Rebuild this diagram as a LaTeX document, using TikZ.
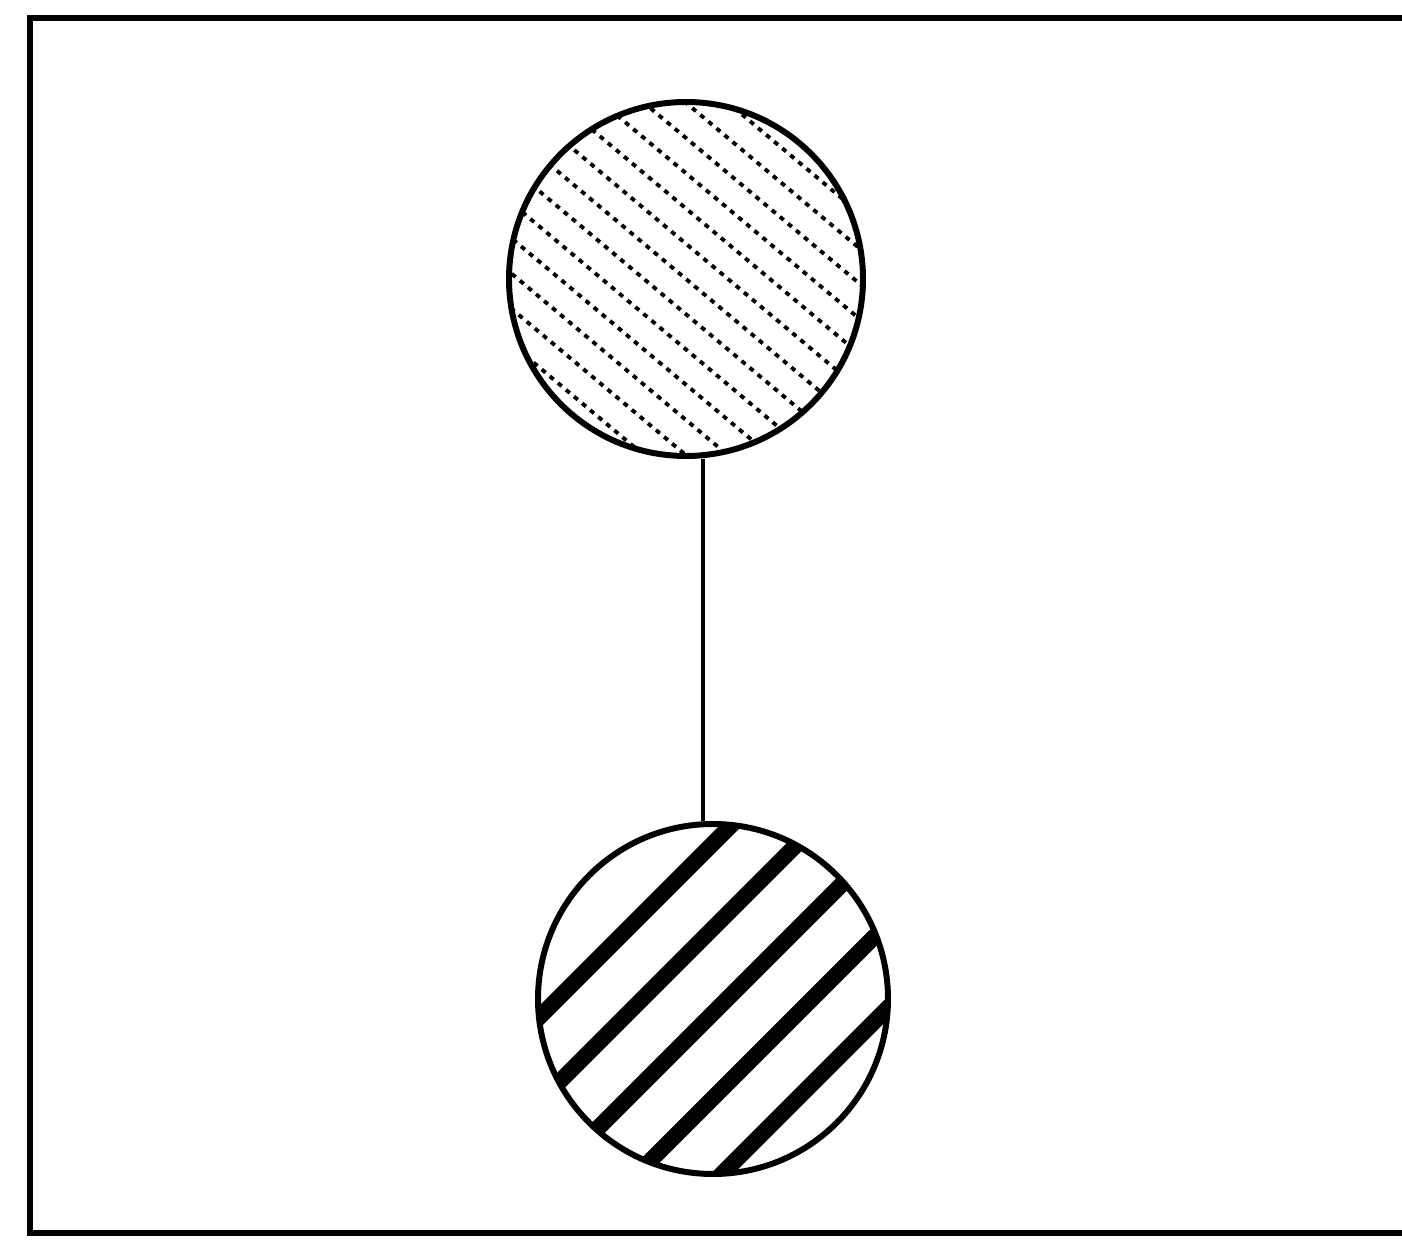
\documentclass[tikz,border=0pt]{standalone}
\usetikzlibrary{positioning,calc}

\begin{document}
\begin{tikzpicture}[line width=1.7pt,
    ball/.style={circle,draw,line width=1.7pt,inner sep=0pt,minimum size=#1},
    fine hatch/.style={path picture={
        \foreach \k in {-7,...,7}
          \draw[line width=1.1pt,dash pattern=on 1.4pt off 1.6pt]
            ($(path picture bounding box.center)+(50:{\k*0.27})+(140:2)$) --
            ($(path picture bounding box.center)+(50:{\k*0.27})+(-40:2)$);}},
    coarse hatch/.style={path picture={
        \foreach \k in {-2,...,2}
          \draw[line width=4.6pt]
            ($(path picture bounding box.center)+(135:{-0.10-\k*0.60})+(225:2)$) --
            ($(path picture bounding box.center)+(135:{-0.10-\k*0.60})+(45:2)$);}}]
    \useasboundingbox (0,0) rectangle (14.02,12.49);

    % frame, open on the right
    \draw (14.2,12.31) -- (0.30,12.31) -- (0.30,0.16) -- (14.2,0.16);

    \node[ball=3.54cm,fine hatch] (upper) at (6.86,9.70) {};
    \node[ball=3.50cm,coarse hatch] (lower) at (7.13,2.50) {};

    \coordinate (link) at (7.03,6.10);
    \draw[line width=1.4pt] (link |- upper.south) -- (link |- lower.north);
\end{tikzpicture}
\end{document}
